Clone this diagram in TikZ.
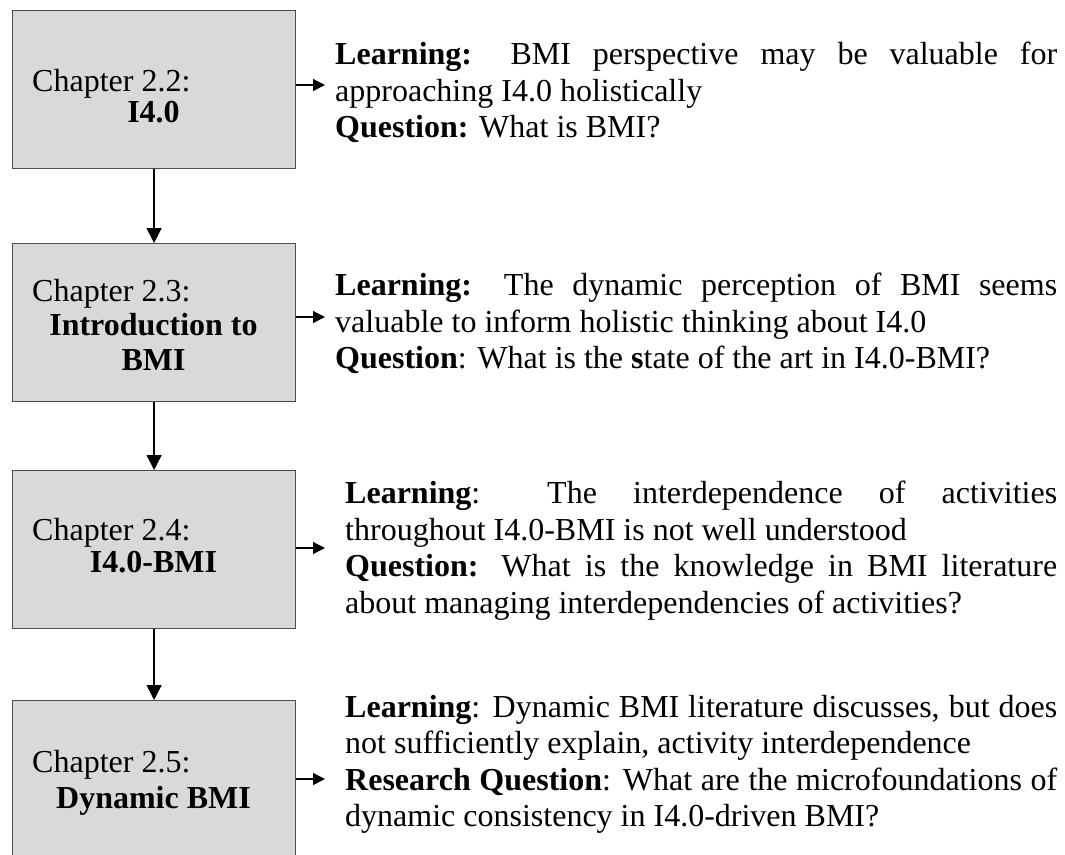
\documentclass[tikz,border=0pt]{standalone}
\usepackage{fontspec}
\setmainfont{Liberation Serif}
\usetikzlibrary{arrows.meta}
\begin{document}
\begin{tikzpicture}[x=1pt,y=-1pt,
  chapbox/.style={draw=black!70, fill=black!15, line width=1.2pt, rectangle,
    inner sep=0pt, minimum width=283pt, minimum height=158pt, anchor=north west},
  flow/.style={-{Triangle[length=15pt,width=15pt]}, line width=1.3pt},
  point/.style={-{Triangle[length=12pt,width=12pt]}, line width=1.3pt},
  chap/.style={font=\fontsize{32}{36.5}\selectfont, inner sep=0pt, anchor=base west},
  topic/.style={font=\fontsize{32}{36.5}\selectfont\bfseries, inner sep=0pt, anchor=base},
  note/.style={font=\fontsize{32}{36.5}\selectfont, inner sep=0pt, anchor=north west,
    align=justify, text width=#1},
]
\useasboundingbox (0,0) rectangle (1065,854);
\clip (0,0) rectangle (1065,854);
\tolerance=9999 \hyphenpenalty=10000 \exhyphenpenalty=10000

% chapter boxes
\node[chapbox] (b1) at (12,10) {};
\node[chapbox] (b2) at (12,243) {};
\node[chapbox] (b3) at (12,470) {};
\node[chapbox] (b4) at (12,700) {};

% box captions
\node[chap]  (c1) at (32,91)    {Chapter 2.2:};
\node[topic] (k1) at (153.5,122) {I4.0};
\node[chap]  (c2) at (32,301)   {Chapter 2.3:};
\node[topic] (k2) at (153.5,335) {Introduction to};
\node[topic] (k2b) at (153.5,370) {BMI};
\node[chap]  (c3) at (32,540)   {Chapter 2.4:};
\node[topic] (k3) at (153.5,572) {I4.0-BMI};
\node[chap]  (c4) at (32,772)   {Chapter 2.5:};
\node[topic] (k4) at (153.5,808) {Dynamic BMI};

% flow between chapters
\draw[flow] (b1.south) -- (b2.north);
\draw[flow] (b2.south) -- (b3.north);
\draw[flow] (b3.south) -- (b4.north);

% pointers to the notes
\coordinate (p1) at (325,85);
\coordinate (p2) at (325,317);
\coordinate (p3) at (325,548);
\coordinate (p4) at (325,779);
\draw[point] (b1.east |- p1) -- (p1);
\draw[point] (b2.east |- p2) -- (p2);
\draw[point] (b3.east |- p3) -- (p3);
\draw[point] (b4.east |- p4) -- (p4);

% notes
\node[note=722pt] (t1) at (335,42) {\parindent=0pt
  \textbf{Learning:} BMI perspective may be valuable for\linebreak
  approaching I4.0 holistically\par
  \textbf{Question:} What is BMI?};
\node[note=722pt] (t2) at (335,273) {\parindent=0pt
  \textbf{Learning:} The dynamic perception of BMI seems\linebreak
  valuable to inform holistic thinking about I4.0\par
  \textbf{Question}: What is the \textbf{s}tate of the art in I4.0-BMI?};
\node[note=712pt] (t3) at (345,481) {\parindent=0pt
  \textbf{Learning}: The interdependence of activities\linebreak
  throughout I4.0-BMI is not well understood\par
  \textbf{Question:} What is the knowledge in BMI literature\linebreak
  about managing interdependencies of activities?};
\node[note=712pt] (t4) at (345,695) {\parindent=0pt
  \textbf{Learning}: Dynamic BMI literature discusses, but does\linebreak
  not sufficiently explain, activity interdependence\par
  \textbf{Research Question}: What are the microfoundations of\linebreak
  dynamic consistency in I4.0-driven BMI?};
\end{tikzpicture}
\end{document}
